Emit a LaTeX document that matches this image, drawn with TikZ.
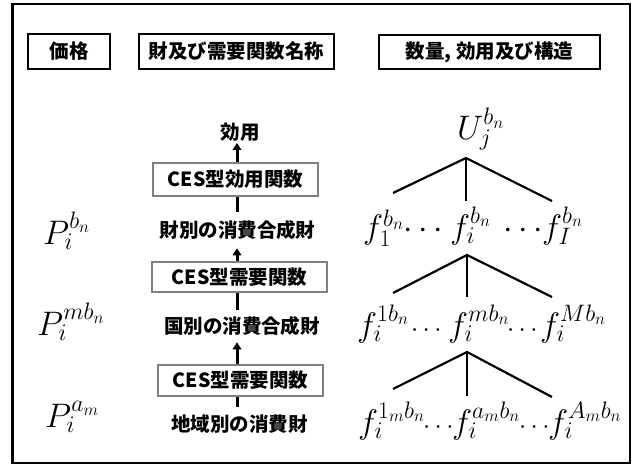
\RequirePackage{fix-cm}
\documentclass[tikz,border=0pt]{standalone}
\usepackage{fontspec}
\newfontfamily\jpfont{Noto Sans CJK JP}
\usetikzlibrary{arrows.meta}
\begin{document}
\begin{tikzpicture}[x=1pt,y=-1pt,
  jp/.style={font=\jpfont\bfseries\fontsize{19.5}{19.5}\selectfont},
  hdr/.style={jp,draw,line width=1.8pt,inner sep=0pt},
  ces/.style={jp,draw=black!50,line width=1.1pt,inner sep=0pt},
  jtxt/.style={jp,inner sep=0pt},
  mth/.style={inner sep=0pt,anchor=base west,font=\fontsize{34}{40}\selectfont},
  sdots/.style={inner sep=0pt,anchor=base west,font=\fontsize{26}{30}\selectfont},
  arr/.style={line width=3pt,-{Triangle[width=8.5pt,length=7pt]}},
  ln/.style={line width=3pt},
  tree/.style={line width=2.2pt,line join=miter}]
\useasboundingbox (0,0) rectangle (638,468);
% outer frame
\draw[line width=2.5pt] (12.5,4) rectangle (630,463);
% headers
\node[hdr,minimum width=82pt,minimum height=35pt] (hp) at (69,51.5) {価格};
\node[hdr,minimum width=195pt,minimum height=35pt] (hq) at (236.5,51.5) {財及び需要関数名称};
\node[hdr,minimum width=221pt,minimum height=34pt] (hs) at (489.5,52) {数量, 効用及び構造};
% middle column
\node[jtxt] (u) at (240,132) {効用};
\node[ces,minimum width=165pt,minimum height=33pt] (b1) at (235.5,179.5) {CES型効用関数};
\node[jtxt] (g1) at (237.5,230) {財別の消費合成財};
\node[ces,minimum width=175pt,minimum height=30pt] (b2) at (239.5,277) {CES型需要関数};
\node[jtxt] (g2) at (242,326) {国別の消費合成財};
\node[ces,minimum width=165pt,minimum height=31pt] (b3) at (240.5,380.5) {CES型需要関数};
\node[jtxt] (g3) at (239.5,424) {地域別の消費財};
\coordinate (ax) at (237,0);
\draw[arr,shorten >=1.5pt] (b1.north -| ax) -- (u.south -| ax);
\draw[ln,shorten <=8.5pt] (g1.north -| ax) -- (b1.south -| ax);
\draw[arr,shorten >=8.5pt] (b2.north -| ax) -- (g1.south -| ax);
\draw[ln,shorten <=6.5pt] (g2.north -| ax) -- (b2.south -| ax);
\draw[arr,shorten >=6.5pt] (b3.north -| ax) -- (g2.south -| ax);
\draw[ln,shorten <=7.5pt] (g3.north -| ax) -- (b3.south -| ax);
% prices
\node[mth] (pb) at (43,244) {$P_i^{b_n}$};
\node[mth] (pm) at (37,335) {$P_i^{mb_n}$};
\node[mth] (pa) at (45,427) {$P_i^{a_m}$};
% right column
\node[mth] (uj) at (457,140) {$U_j^{b_n}$};
\node[mth] (f11) at (363,238.5) {$f_1^{b_n}$};
\node[mth] (d11) at (403,238.5) {$\cdots$};
\node[mth] (f12) at (450,238.5) {$f_i^{b_n}$};
\node[mth] (d12) at (503,238.5) {$\cdots$};
\node[mth] (f13) at (542,238.5) {$f_I^{b_n}$};
\node[mth] (f21) at (357,336.5) {$f_i^{1b_n}$};
\node[sdots] (d21) at (411,336.5) {$\cdots$};
\node[mth] (f22) at (448,336.5) {$f_i^{mb_n}$};
\node[sdots] (d22) at (507,336.5) {$\cdots$};
\node[mth] (f23) at (540,336.5) {$f_i^{Mb_n}$};
\node[mth] (f31) at (358,433.5) {$f_i^{1_m b_n}$};
\node[sdots] (d31) at (423,433.5) {$\cdots$};
\node[mth] (f32) at (452,433.5) {$f_i^{a_m b_n}$};
\node[sdots] (d32) at (519,433.5) {$\cdots$};
\node[mth] (f33) at (548,433.5) {$f_i^{A_m b_n}$};
% trees
\coordinate (t1a) at (466,158); \coordinate (t1l) at (393,193);
\coordinate (t1m) at (466,201); \coordinate (t1r) at (552,201);
\coordinate (t2a) at (467,255); \coordinate (t2l) at (393,293);
\coordinate (t2m) at (467,297); \coordinate (t2r) at (552,297);
\coordinate (t3a) at (467,352); \coordinate (t3l) at (393,389);
\coordinate (t3m) at (467,396); \coordinate (t3r) at (552,397);
\draw[tree] (t1l) -- (t1a) -- (t1r); \draw[tree] (t1a) -- (t1m);
\draw[tree] (t2l) -- (t2a) -- (t2r); \draw[tree] (t2a) -- (t2m);
\draw[tree] (t3l) -- (t3a) -- (t3r); \draw[tree] (t3a) -- (t3m);
\end{tikzpicture}
\end{document}
